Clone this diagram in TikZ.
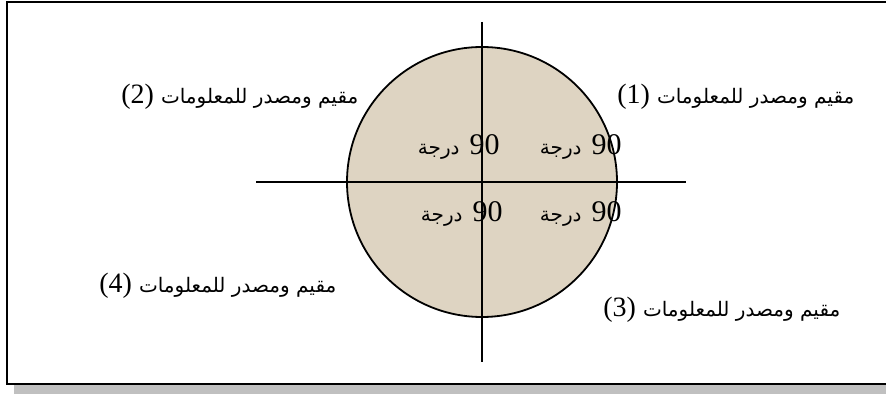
\documentclass[tikz,border=0pt]{standalone}
\usepackage{fontspec}
\setmainfont{Liberation Serif}
\newfontfamily\arabicfont[Script=Arabic]{DejaVu Sans}
\TeXXeTstate=1
\usepackage{tikz}
\usetikzlibrary{positioning}
\definecolor{discfill}{RGB}{222,212,194}
\definecolor{shadowgray}{RGB}{192,192,192}
\newcommand{\srctxt}{{\arabicfont\fontsize{10}{12}\selectfont\beginR مقيم ومصدر للمعلومات\endR}}
\newcommand{\degtxt}{{\arabicfont\fontsize{10}{12}\selectfont\beginR درجة\endR}}

\begin{document}
\begin{tikzpicture}[
    x=0.5pt, y=-0.5pt,
    src/.style={inner sep=0pt, anchor=base west, font=\fontsize{14}{16}\selectfont},
    ang/.style={inner sep=0pt, anchor=base east, font=\fontsize{15}{17}\selectfont},
    axis/.style={line width=0.8pt}
]
\clip (0,0) rectangle (886,394);
% frame and its shadow
\fill[shadowgray] (14,385) rectangle (900,394);
\draw[line width=1.1pt] (7,2) rectangle (900,384);

% disc and axes
\node[circle, draw, line width=0.9pt, fill=discfill, minimum size=135pt, inner sep=0pt] (disc) at (482,182) {};
\coordinate (top) at (482,22);
\coordinate (bot) at (482,362);
\coordinate (lft) at (256,182);
\coordinate (rgt) at (686,182);
\draw[axis] (top) -- (bot);
\draw[axis] (lft) -- (rgt);

% quarter angles
\node[ang] (a1) at (622,155) {\degtxt\hspace{5pt}90};
\node[ang] (a2) at (500,155) {\degtxt\hspace{5pt}90};
\node[ang] (a3) at (622,222) {\degtxt\hspace{5pt}90};
\node[ang] (a4) at (503,222) {\degtxt\hspace{5pt}90};

% sources
\node[src] (s1) at (617,104) {(1)~\srctxt};
\node[src] (s2) at (121,104) {(2)~\srctxt};
\node[src] (s3) at (603,316) {(3)~\srctxt};
\node[src] (s4) at (99,293) {(4)~\srctxt};
\end{tikzpicture}
\end{document}
